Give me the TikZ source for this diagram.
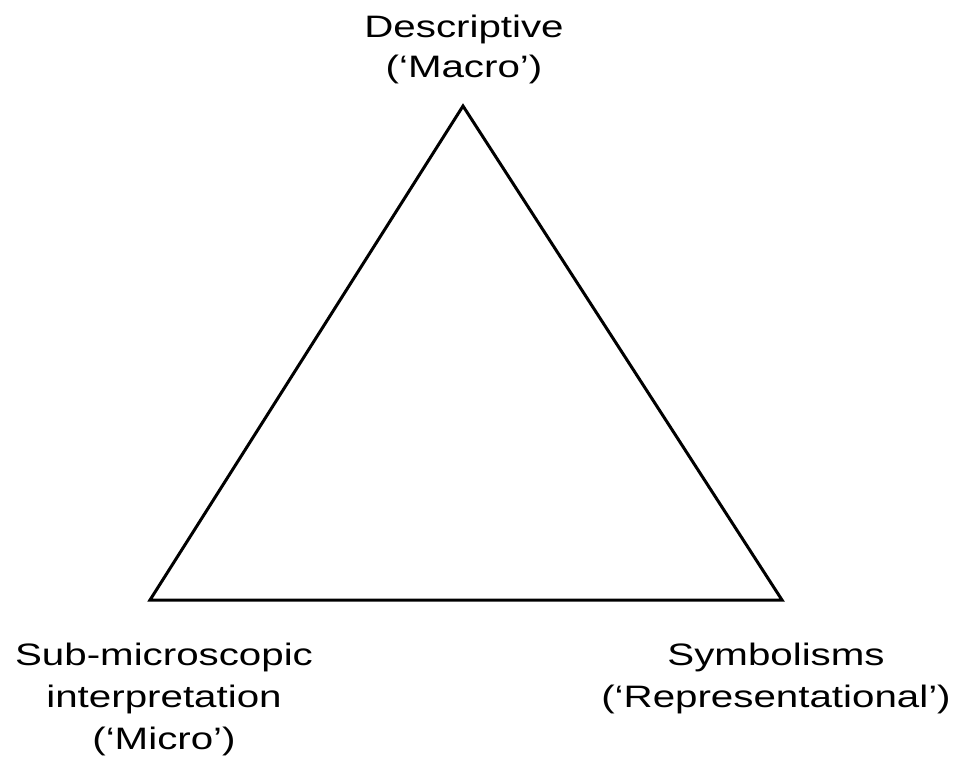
\documentclass[tikz,border=0pt]{standalone}
\usepackage{fontspec}
\setmainfont[FakeStretch=1.3]{Liberation Sans}
\begin{document}
\begin{tikzpicture}[x=0.5pt,y=-0.5pt,
	level/.style={align=center,anchor=base,inner sep=0,
		font=\fontsize{15.5}{21}\selectfont},
	side/.style={line width=1.5pt,line join=miter}]
\useasboundingbox (0,0) rectangle (963,756);
\coordinate (macro) at (463,106);
\coordinate (micro) at (150,600);
\coordinate (symbol) at (782,600);
\draw[side] (macro) -- (micro) -- (symbol) -- cycle;
% base anchor sits on the last line
\node[level,font=\fontsize{15.5}{20}\selectfont] (macrolabel) at (464,77) {Descriptive\\(‘Macro’)};
\node[level] (microlabel) at (164,749) {Sub-microscopic\\interpretation\\(‘Micro’)};
\node[level] (symbollabel) at (776,707) {Symbolisms\\(‘Representational’)};
\end{tikzpicture}
\end{document}
